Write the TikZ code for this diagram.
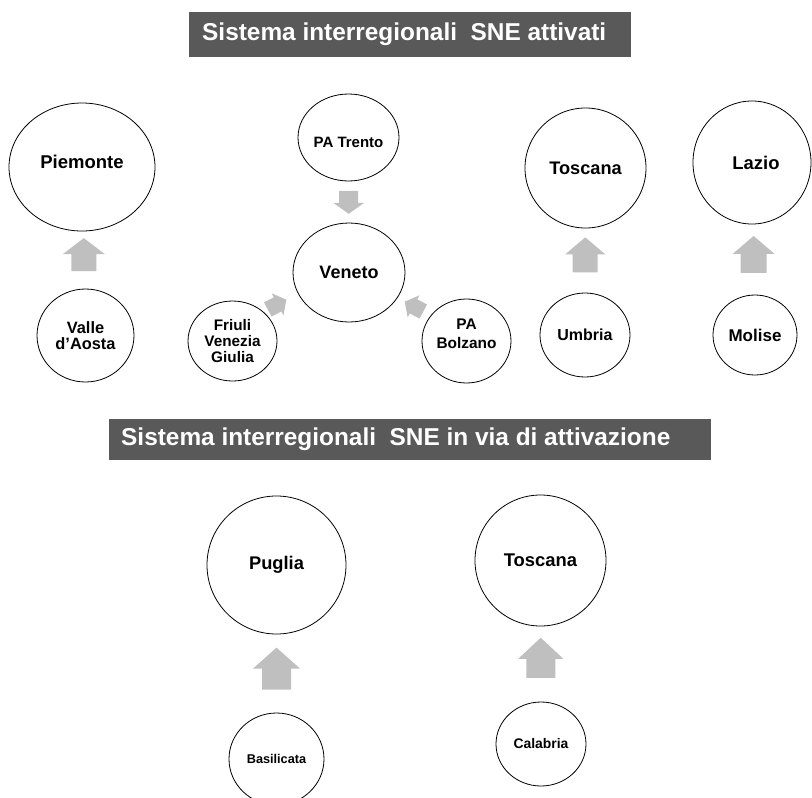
\documentclass[tikz,border=0pt]{standalone}
\usepackage{fontspec}
\setmainfont{Liberation Sans}
\usetikzlibrary{calc,shapes.geometric}
\definecolor{titlegray}{HTML}{595959}
\definecolor{arrowgray}{HTML}{BFBFBF}
% block arrow pointing east: #1 length, #2 head length, #3 head width, #4 shaft width
\newcommand{\blockarrowpath}[4]{%
  \fill[arrowgray] ({-(#1)/2*1pt},{-(#4)/2*1pt}) -- ({((#1)/2-(#2))*1pt},{-(#4)/2*1pt})
    -- ({((#1)/2-(#2))*1pt},{-(#3)/2*1pt}) -- ({(#1)/2*1pt},0pt)
    -- ({((#1)/2-(#2))*1pt},{(#3)/2*1pt}) -- ({((#1)/2-(#2))*1pt},{(#4)/2*1pt})
    -- ({-(#1)/2*1pt},{(#4)/2*1pt}) -- cycle;}
\tikzset{
  barrow/.pic={\blockarrowpath#1},
  reg/.style 2 args={ellipse, draw=black, line width=0.8pt, fill=white,
    minimum width=#1pt, minimum height=#2pt, inner sep=0pt},
  lbl/.style 2 args={inner sep=0pt, align=center,
    font=\fontsize{#1}{#2}\selectfont\bfseries},
  titlebox/.style={fill=titlegray, inner sep=0pt, anchor=north west},
  titletext/.style={inner sep=0pt, text=white, anchor=west,
    font=\fontsize{24.4}{28}\selectfont\bfseries},
}
\begin{document}
\begin{tikzpicture}[x=1pt,y=-1pt]
\useasboundingbox (0,0) rectangle (812,798);
% titles
\node[titlebox, minimum width=442pt, minimum height=45pt,
  label={[titletext, xshift=13pt]west:Sistema interregionali\ \ SNE attivati}] (title1) at (189,12) {};
\node[titlebox, minimum width=602pt, minimum height=41pt,
  label={[titletext, xshift=12pt]west:Sistema interregionali\ \ SNE in via di attivazione}] (title2) at (109,419) {};
% top row
\node[reg={146}{128}, label={[lbl={18.5}{20}, yshift=5pt]center:Piemonte}] (piem) at (82,167) {};
\node[reg={97}{93}, label={[lbl={16.4}{16.5}]center:Valle\\d’Aosta}] (valle) at (85.5,335.5) {};
\node[reg={101}{87}, label={[lbl={15}{17}, yshift=-4.5pt]center:PA Trento}] (trento) at (348.5,137.5) {};
\node[reg={112}{99}, label={[lbl={18}{20}]center:Veneto}] (veneto) at (349,272.5) {};
\node[reg={89}{80}, label={[lbl={15.3}{16}]center:Friuli\\Venezia\\Giulia}] (friuli) at (232.5,341) {};
\node[reg={89}{84}, label={[lbl={15.4}{18.7}, yshift=7.5pt]center:PA\\Bolzano}] (bolzano) at (466.5,341) {};
\node[reg={121}{120}, label={[lbl={18.2}{20}]center:Toscana}] (tosc) at (585.5,168) {};
\node[reg={90}{84}, label={[lbl={16}{18}]center:Umbria}] (umbria) at (585,335) {};
\node[reg={118}{123}, label={[lbl={18.4}{20}, xshift=4pt]center:Lazio}] (lazio) at (752,162.5) {};
\node[reg={84}{80}, label={[lbl={17}{19}]center:Molise}] (molise) at (755,335) {};
% bottom row
\node[reg={139}{138}, label={[lbl={18.3}{20}]center:Puglia}] (puglia) at (276.5,565) {};
\node[reg={95}{92}, label={[lbl={12.7}{14}]center:Basilicata}] (basil) at (276.5,759) {};
\node[reg={131}{131}, label={[lbl={18.4}{20}]center:Toscana}] (tosc2) at (540.5,560.5) {};
\node[reg={90}{84}, label={[lbl={13.9}{15}]center:Calabria}] (calab) at (541,744) {};
% block arrows
\pic[rotate=90] at ($(valle)!0.48!(piem)$) {barrow={33}{16}{42}{25}};
\pic[rotate=90] at ($(umbria)!0.48!(tosc)$) {barrow={35}{17}{40}{25}};
\pic[rotate=90] at ($(molise)!0.467!(lazio)$) {barrow={37}{18}{42}{26}};
\pic[rotate=-90] at ($(trento)!0.48!(veneto)$) {barrow={23}{11}{31}{19}};
\pic[rotate=28] at ($(friuli)!0.4!(veneto)+(-2,-9)$) {barrow={21}{10}{25}{16}};
\pic[rotate=152] at ($(bolzano)!0.4!(veneto)+(-5.5,-7)$) {barrow={21}{10}{25}{16}};
\pic[rotate=90] at ($(basil)!0.466!(puglia)$) {barrow={42}{21}{47}{29}};
\pic[rotate=90] at ($(calab)!0.47!(tosc2)$) {barrow={40}{21}{45}{29}};
\end{tikzpicture}
\end{document}
